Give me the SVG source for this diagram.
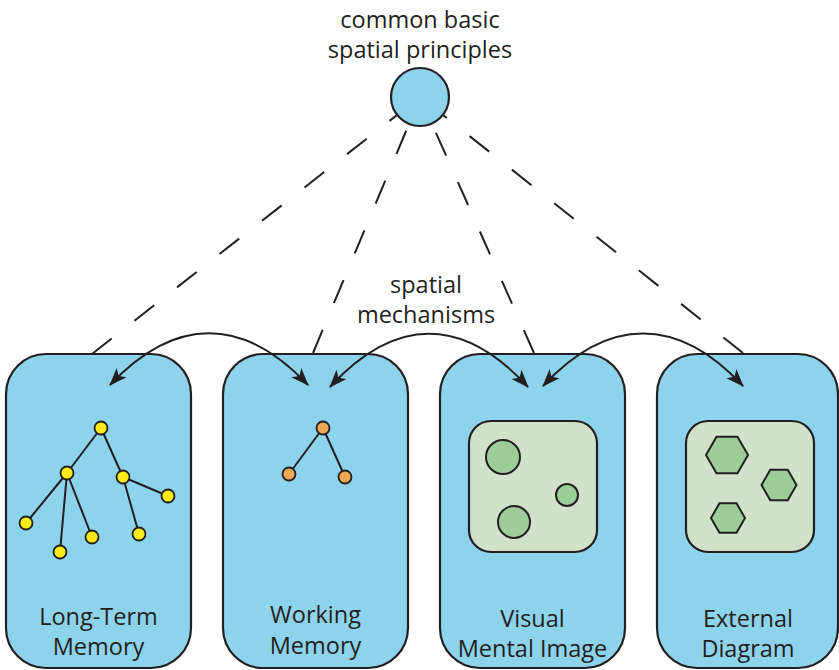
<svg xmlns="http://www.w3.org/2000/svg" width="839" height="670" viewBox="0 0 839 670">
  <style>
    .lbl { font-family: "Open Sans", "Noto Sans", "Liberation Sans", sans-serif; font-size: 23.5px; fill: #231F20; text-anchor: middle; }
    .box { fill: #8ED3EC; stroke: #231F20; stroke-width: 2.2; }
    .pane { fill: #D0E3CA; stroke: #231F20; stroke-width: 2.2; }
    .blob { fill: #9DCE9A; stroke: #231F20; stroke-width: 2; }
    .edge { stroke: #231F20; stroke-width: 2; fill: none; }
    .ltm { fill: #FFEB1A; stroke: #231F20; stroke-width: 1.8; }
    .wm { fill: #EEA755; stroke: #231F20; stroke-width: 1.8; }
    .dash { stroke: #231F20; stroke-width: 2; fill: none; stroke-dasharray: 25 29; }
    .arc { stroke: #231F20; stroke-width: 2; fill: none; marker-start: url(#ah); marker-end: url(#ah); }
  </style>
  <defs>
    <marker id="ah" viewBox="-19 -8 21 16" refX="0" refY="0" markerWidth="21" markerHeight="16" markerUnits="userSpaceOnUse" orient="auto-start-reverse">
      <path d="M1,0 L-17,-6.8 L-12.5,0 L-17,6.8 Z" fill="#231F20"/>
    </marker>
  </defs>
  <rect width="839" height="670" fill="#FFFFFF"/>

  <!-- shared origin -->
  <g id="principles">
    <text class="lbl" x="420" y="28">common basic</text>
    <text class="lbl" x="420" y="58">spatial principles</text>
    <circle cx="420" cy="97" r="29" class="box"/>
  </g>

  <g id="mechanisms-label">
    <text class="lbl" x="426" y="293">spatial</text>
    <text class="lbl" x="426" y="323">mechanisms</text>
  </g>

  <!-- long-term memory: a tree of yellow nodes -->
  <g id="long-term-memory">
    <rect class="box" x="6" y="354" width="185" height="314" rx="40" ry="40"/>
    <path class="edge" d="M101,428 L67,473 M101,428 L123,477 M67,473 L26,523 M67,473 L60,552 M67,473 L92,537 M123,477 L168,496 M123,477 L139,534"/>
    <circle class="ltm" cx="101" cy="428" r="6.5"/>
    <circle class="ltm" cx="67" cy="473" r="6.5"/>
    <circle class="ltm" cx="123" cy="477" r="6.5"/>
    <circle class="ltm" cx="168" cy="496" r="6.5"/>
    <circle class="ltm" cx="26" cy="523" r="6.5"/>
    <circle class="ltm" cx="60" cy="552" r="6.5"/>
    <circle class="ltm" cx="92" cy="537" r="6.5"/>
    <circle class="ltm" cx="139" cy="534" r="6.5"/>
    <text class="lbl" x="98.5" y="625">Long-Term</text>
    <text class="lbl" x="98.5" y="655">Memory</text>
  </g>

  <!-- working memory: small orange tree -->
  <g id="working-memory">
    <rect class="box" x="223" y="354" width="185" height="314" rx="40" ry="40"/>
    <path class="edge" d="M323,428 L289,474 M323,428 L345,477"/>
    <circle class="wm" cx="323" cy="428" r="6.5"/>
    <circle class="wm" cx="289" cy="474" r="6.5"/>
    <circle class="wm" cx="345" cy="477" r="6.5"/>
    <text class="lbl" x="315.5" y="623">Working</text>
    <text class="lbl" x="315.5" y="654">Memory</text>
  </g>

  <!-- visual mental image: pane with circles -->
  <g id="visual-mental-image">
    <rect class="box" x="440" y="354" width="185" height="314" rx="40" ry="40"/>
    <rect class="pane" x="469" y="421" width="128" height="131" rx="22" ry="22"/>
    <circle class="blob" cx="503" cy="457" r="17"/>
    <circle class="blob" cx="567" cy="495" r="11"/>
    <circle class="blob" cx="514" cy="522" r="16"/>
    <text class="lbl" x="532.5" y="627">Visual</text>
    <text class="lbl" x="532.5" y="657">Mental Image</text>
  </g>

  <!-- external diagram: pane with hexagons -->
  <g id="external-diagram">
    <rect class="box" x="657" y="354" width="181" height="314" rx="40" ry="40"/>
    <rect class="pane" x="686" y="421" width="128" height="131" rx="22" ry="22"/>
    <polygon class="blob" points="706,455 716.5,436.8 737.5,436.8 748,455 737.5,473.2 716.5,473.2"/>
    <polygon class="blob" points="761.5,485 770.25,469.8 787.75,469.8 796.5,485 787.75,500.2 770.25,500.2"/>
    <polygon class="blob" points="711,518 719.5,503.3 736.5,503.3 745,518 736.5,532.7 719.5,532.7"/>
    <text class="lbl" x="748" y="627">External</text>
    <text class="lbl" x="748" y="657">Diagram</text>
  </g>

  <g id="connectors">
    <path class="dash" d="M92,354 L397,115"/>
    <path class="dash" d="M313,353 L409,124"/>
    <path class="dash" d="M534,353 L432,124"/>
    <path class="dash" d="M743,353 L443,115"/>
    <path class="arc" d="M110,385 C175,316 243,316 308,385"/>
    <path class="arc" d="M330,387 C395,316 463,316 528,387"/>
    <path class="arc" d="M543,386 C608,316 678,316 743,386"/>
  </g>
</svg>
